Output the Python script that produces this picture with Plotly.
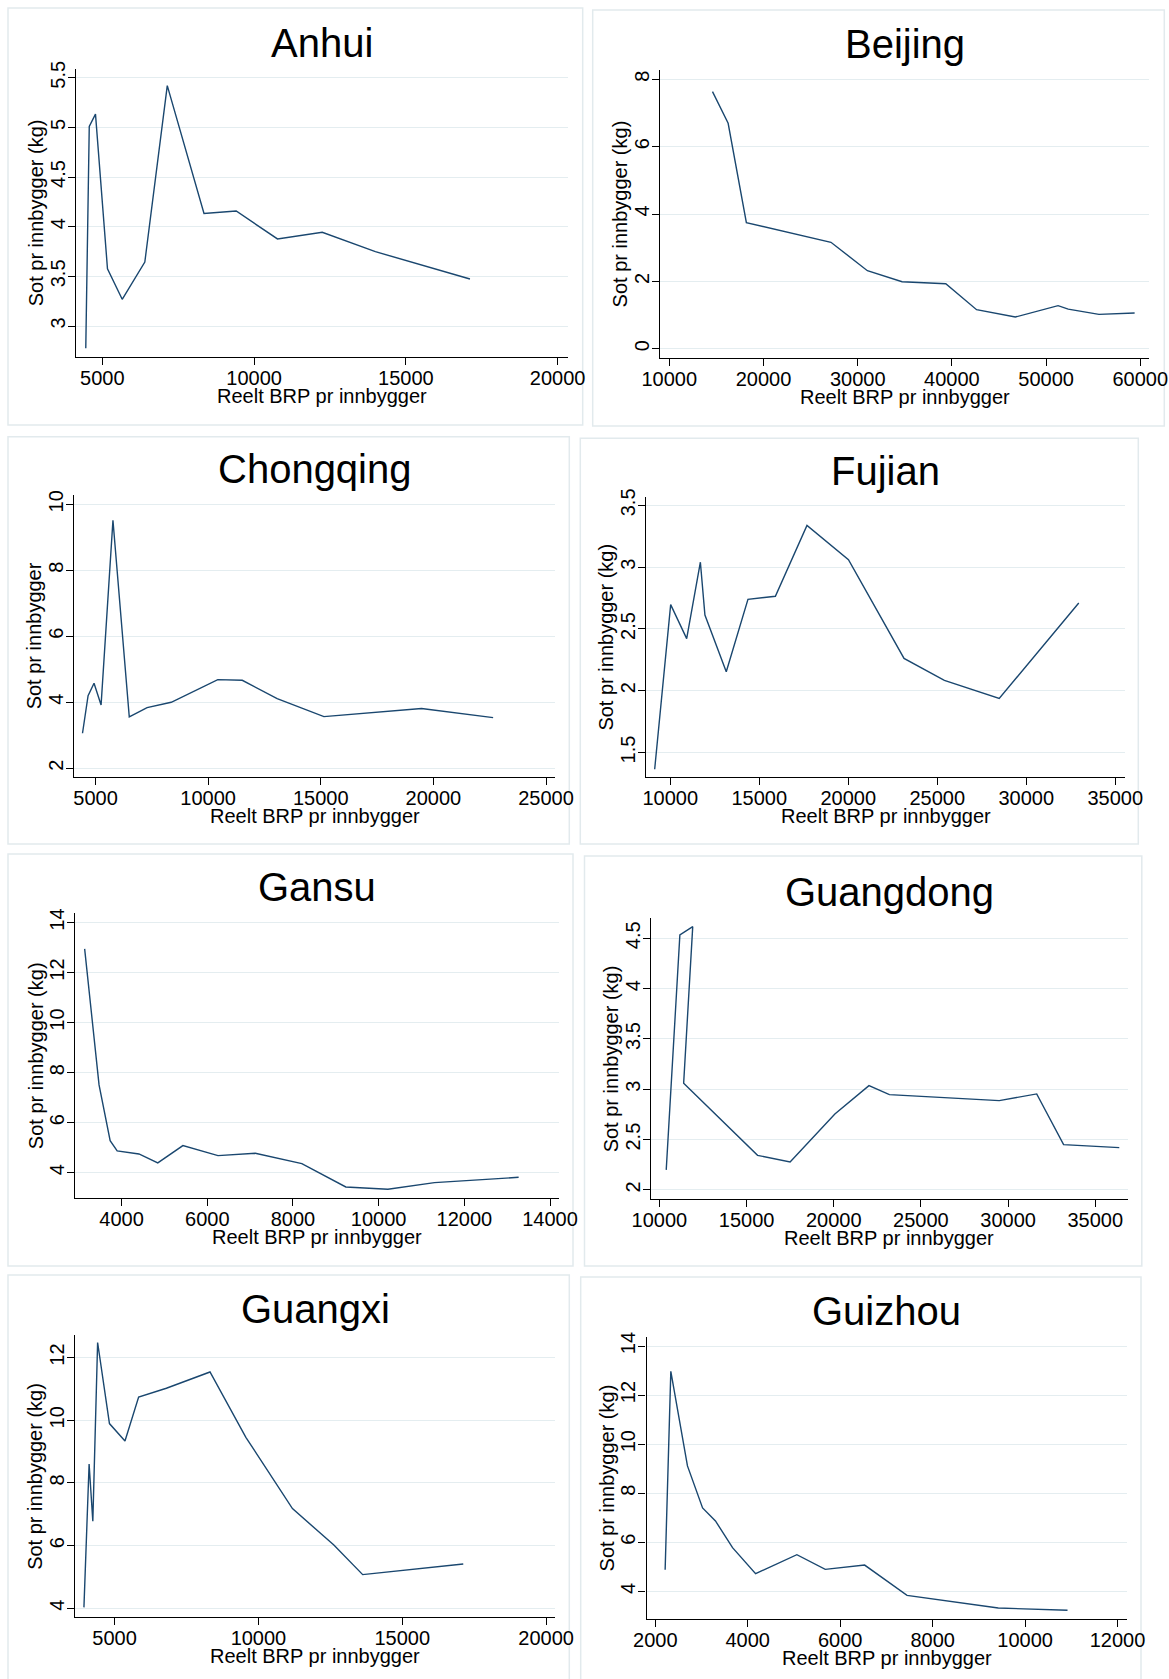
import plotly.graph_objects as go

# ---------------------------------------------------------------------------
# Data: real GDP per capita (x) and soot emissions per capita (y), by province
# ---------------------------------------------------------------------------
provinces = ["Anhui", "Beijing", "Chongqing", "Fujian",
             "Gansu", "Guangdong", "Guangxi", "Guizhou"]

anhui_brp = [4455, 4570, 4775, 5170, 5655, 6400, 7140, 8350, 9410, 10770, 12245, 13995, 17110]
anhui_sot = [2.775, 5.01, 5.134, 3.577, 3.269, 3.644, 5.42, 4.134, 4.158, 3.877, 3.944, 3.749, 3.473]

beijing_brp = [14585, 16245, 18182, 27160, 31030, 34710, 39350, 42620, 46730, 51270, 52350, 55610, 59400]
beijing_sot = [7.634, 6.693, 3.743, 3.16, 2.317, 1.99, 1.93, 1.159, 0.94, 1.278, 1.174, 1.02, 1.06]

chongqing_brp = [4423, 4670, 4934, 5247, 5774, 6499, 7290, 8361, 10428, 11516, 13064, 15140, 19473, 22652]
chongqing_sot = [3.062, 4.2, 4.575, 3.92, 9.516, 3.556, 3.84, 4.0, 4.686, 4.666, 4.11, 3.566, 3.81, 3.536]

fujian_brp = [9123, 10021, 10920, 11690, 11946, 13144, 14363, 15903, 17678, 20009, 23131, 25398, 28478, 32947]
fujian_sot = [1.365, 2.697, 2.422, 3.04, 2.613, 2.154, 2.74, 2.764, 3.338, 3.06, 2.262, 2.084, 1.938, 2.71]

gansu_brp = [3138, 3474, 3733, 3897, 4405, 4845, 5431, 6250, 7121, 8207, 9233, 10216, 11302, 13267]
gansu_sot = [12.95, 7.507, 5.28, 4.867, 4.747, 4.387, 5.08, 4.68, 4.773, 4.36, 3.427, 3.333, 3.6, 3.813]

guangdong_brp = [10391, 11173, 11911, 11390, 15630, 17497, 20065, 22020, 23193, 29492, 31643, 33185, 36378]
guangdong_sot = [2.199, 4.533, 4.616, 3.06, 2.344, 2.278, 2.755, 3.036, 2.947, 2.887, 2.954, 2.45, 2.42]

guangxi_brp = [3933, 4113, 4242, 4409, 4820, 5360, 5835, 6799, 8316, 9563, 11183, 12622, 13625, 17121]
guangxi_sot = [4.03, 8.606, 6.777, 12.48, 9.894, 9.34, 10.74, 11.02, 11.54, 9.457, 7.18, 6.02, 5.074, 5.415]

guizhou_brp = [2213, 2336, 2696, 3023, 3302, 3671, 4170, 5063, 5677, 6529, 7446, 9420, 10918]
guizhou_sot = [4.883, 12.967, 9.114, 7.402, 6.87, 5.78, 4.72, 5.495, 4.897, 5.07, 3.837, 3.32, 3.226]

series_x = [anhui_brp, beijing_brp, chongqing_brp, fujian_brp,
            gansu_brp, guangdong_brp, guangxi_brp, guizhou_brp]
series_y = [anhui_sot, beijing_sot, chongqing_sot, fujian_sot,
            gansu_sot, guangdong_sot, guangxi_sot, guizhou_sot]

# Tick values per panel
x_ticks = [
    [5000, 10000, 15000, 20000],
    [10000, 20000, 30000, 40000, 50000, 60000],
    [5000, 10000, 15000, 20000, 25000],
    [10000, 15000, 20000, 25000, 30000, 35000],
    [4000, 6000, 8000, 10000, 12000, 14000],
    [10000, 15000, 20000, 25000, 30000, 35000],
    [5000, 10000, 15000, 20000],
    [2000, 4000, 6000, 8000, 10000, 12000],
]
y_ticks = [
    [3, 3.5, 4, 4.5, 5, 5.5],
    [0, 2, 4, 6, 8],
    [2, 4, 6, 8, 10],
    [1.5, 2, 2.5, 3, 3.5],
    [4, 6, 8, 10, 12, 14],
    [2, 2.5, 3, 3.5, 4, 4.5],
    [4, 6, 8, 10, 12],
    [4, 6, 8, 10, 12, 14],
]
x_title = "Reelt BRP pr innbygger"
y_titles = ["Sot pr innbygger (kg)", "Sot pr innbygger (kg)", "Sot pr innbygger",
            "Sot pr innbygger (kg)", "Sot pr innbygger (kg)", "Sot pr innbygger (kg)",
            "Sot pr innbygger (kg)", "Sot pr innbygger (kg)"]

# ---------------------------------------------------------------------------
# Geometry (pixels): outer frame of each small graph and its plot region
# ---------------------------------------------------------------------------
W, H = 1169, 1679
frames = [
    (8, 8, 582.7, 425), (592.7, 10, 1164.3, 426),
    (8, 436.7, 569.3, 844), (580.3, 438.3, 1138.3, 844),
    (8, 854, 573, 1266), (584.5, 856, 1141.8, 1266),
    (8, 1275, 569.3, 1700), (580.7, 1277, 1141, 1700),
]
plots = [
    (76.3, 69, 567.7, 357), (660.3, 70.3, 1149.3, 358),
    (74, 495.4, 555.3, 777.3), (646.3, 497.3, 1125.2, 777.3),
    (75.4, 913.3, 559.3, 1198.3), (650.7, 918.3, 1127.8, 1199),
    (74.7, 1335, 555.3, 1617.3), (646.6, 1336.7, 1127, 1619),
]
x_ranges = [(4143, 20330), (9043, 60957), (4045, 25412), (8652, 35556),
            (2922, 14216), (9500, 36868), (3612, 20321), (1812, 12205)]
y_ranges = [(2.688, 5.588), (-0.276, 8.267), (1.727, 10.27), (1.30, 3.565),
            (2.973, 14.37), (1.91, 4.699), (3.713, 12.72), (2.872, 14.38)]

FONT = "Liberation Sans, Arial, sans-serif"
LINE_COLOR = "#1a476f"
GRID_COLOR = "#e4edf0"
FRAME_COLOR = "#e2eaed"
TXT = 20


def fmt(v):
    return f"{v:g}"


def px_x(v):
    return v / W


def px_y(v):
    return 1 - v / H


fig = go.Figure()
layout = dict(
    template=go.layout.Template(),
    width=W, height=H, autosize=False,
    margin=dict(l=0, r=0, t=0, b=0, pad=0),
    paper_bgcolor="white", plot_bgcolor="white",
    showlegend=False,
    font=dict(family=FONT, color="black"),
)
shapes = []
annotations = []

for i, name in enumerate(provinces):
    sfx = "" if i == 0 else str(i + 1)
    fig.add_trace(go.Scatter(
        x=series_x[i], y=series_y[i], mode="lines",
        line=dict(color=LINE_COLOR, width=1.4),
        xaxis="x" + sfx, yaxis="y" + sfx,
        hoverinfo="skip", showlegend=False,
    ))
    L, T, R, B = plots[i]
    axis_common = dict(
        automargin=False,
        showline=True, linecolor="black", linewidth=1.3,
        ticks="outside", ticklen=7, tickwidth=1.3, tickcolor="black",
        zeroline=False,
        tickfont=dict(family=FONT, size=TXT, color="black"),
    )
    layout["xaxis" + sfx] = dict(
        domain=[px_x(L), px_x(R)], anchor="y" + sfx,
        range=list(x_ranges[i]),
        tickvals=x_ticks[i], ticktext=[fmt(v) for v in x_ticks[i]],
        ticklabelstandoff=-4,
        showgrid=False, **axis_common,
    )
    layout["yaxis" + sfx] = dict(
        domain=[px_y(B), px_y(T)], anchor="x" + sfx,
        range=list(y_ranges[i]),
        tickvals=y_ticks[i], ticktext=[fmt(v) for v in y_ticks[i]],
        tickangle=-90, ticklabelstandoff=-5,
        showgrid=True, gridcolor=GRID_COLOR, gridwidth=1.3,
        **axis_common,
    )

    # outer frame of the small graph
    fL, fT, fR, fB = frames[i]
    shapes.append(dict(
        type="rect", xref="paper", yref="paper",
        x0=px_x(fL), x1=px_x(fR), y0=px_y(fB), y1=px_y(fT),
        line=dict(color=FRAME_COLOR, width=1.5), fillcolor="rgba(0,0,0,0)",
        layer="below",
    ))

    cx = (L + R) / 2
    # panel title
    annotations.append(dict(
        text=name, xref="paper", yref="paper",
        x=px_x(cx), y=px_y(T - 26), xanchor="center", yanchor="middle",
        showarrow=False, font=dict(family=FONT, size=40, color="black"),
    ))
    # x-axis title
    annotations.append(dict(
        text=x_title, xref="paper", yref="paper",
        x=px_x(cx), y=px_y(B + 39), xanchor="center", yanchor="middle",
        showarrow=False, font=dict(family=FONT, size=TXT, color="black"),
    ))
    # y-axis title
    annotations.append(dict(
        text=y_titles[i], xref="paper", yref="paper",
        x=px_x(L - 40), y=px_y((T + B) / 2), xanchor="center", yanchor="middle",
        textangle=-90,
        showarrow=False, font=dict(family=FONT, size=TXT, color="black"),
    ))

layout["shapes"] = shapes
layout["annotations"] = annotations
fig.update_layout(**layout)

fig.write_html("out.html", post_script="document.body.style.margin='0';")
